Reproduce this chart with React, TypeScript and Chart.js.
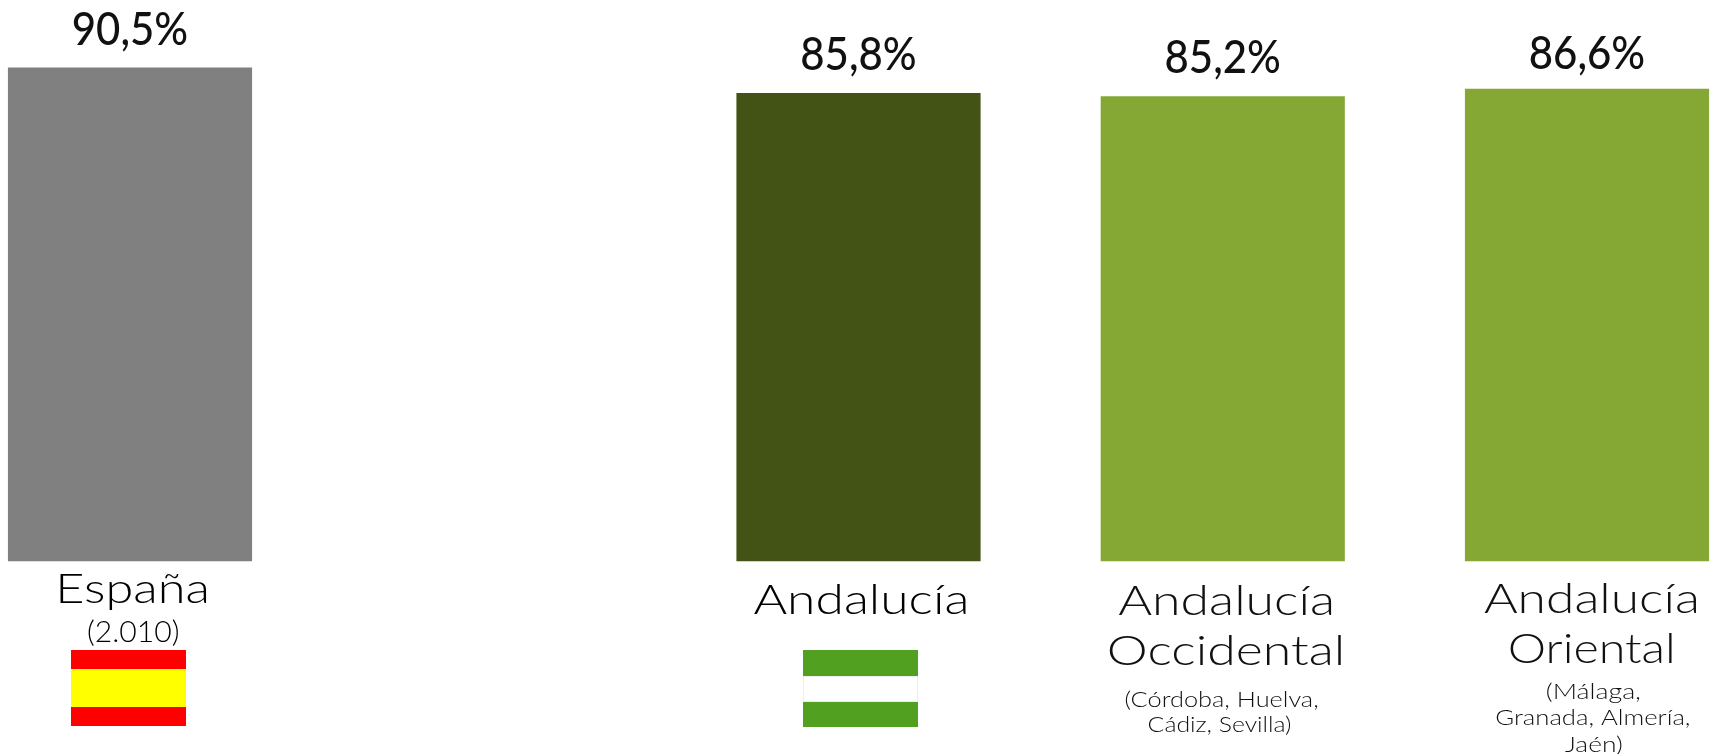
import React, { useEffect, useRef } from "react";
import { Chart, registerables } from "chart.js";

Chart.register(...registerables);

const categories = ["España", "", "Andalucía", "Andalucía Occidental", "Andalucía Oriental"];
const values = [90.5, null, 85.8, 85.2, 86.6];
const valueLabels = ["90,5%", "", "85,8%", "85,2%", "86,6%"];
const barColors = ["#808080", "#808080", "#435316", "#84a833", "#84a833"];
const titleLines = [["España"], [], ["Andalucía"], ["Andalucía", "Occidental"], ["Andalucía", "Oriental"]];
const noteLines = [["(2.010)"], [], [], ["(Córdoba, Huelva,", "Cádiz, Sevilla)"], ["(Málaga,", "Granada, Almería,", "Jaén)"]];
const spainFlag = ["#fe0000", "#ffff00", "#fe0000"];
const andaluciaFlag = ["#51a020", "#ffffff", "#51a020"];
const flagStripes = [spainFlag, [], andaluciaFlag, [], []];

// Layout of the texts, in pixels relative to the bar's centre and base
const valueGap = [23, 0, 23, 24, 20];
const titleLayout: any = {
  0: [{ dx: 3.5, dy: 42, w: 147, size: 42, color: "#000000" }],
  2: [{ dx: 1.5, dy: 53, w: 213, size: 42, color: "#000000" }],
  3: [
    { dx: 2.5, dy: 54, w: 214, size: 42, color: "#111111" },
    { dx: 2.5, dy: 104, w: 232, size: 42, color: "#111111" },
  ],
  4: [
    { dx: 3.5, dy: 52, w: 213, size: 42, color: "#111111" },
    { dx: 4, dy: 102, w: 162, size: 42, color: "#111111" },
  ],
};
const noteLayout: any = {
  0: [{ dx: 3, dy: 81, w: 90, size: 29, color: "#000000" }],
  3: [
    { dx: -1, dy: 146, w: 192, size: 22, color: "#111111" },
    { dx: -3, dy: 171, w: 142, size: 22, color: "#111111" },
  ],
  4: [
    { dx: 6.5, dy: 138, w: 93, size: 22, color: "#111111" },
    { dx: 6, dy: 164, w: 193, size: 22, color: "#111111" },
    { dx: 6.5, dy: 191, w: 57, size: 22, color: "#111111" },
  ],
};
const flagLayout: any = {
  0: { dx: -1.5, top: 89, w: 115, bands: [19, 38, 19] },
  2: { dx: 2, top: 89, w: 115, bands: [26, 26, 25] },
};

function fitText(ctx: any, text: string, cx: number, y: number, font: string, w: number, color: string) {
  ctx.save();
  ctx.font = font;
  ctx.fillStyle = color;
  ctx.textAlign = "left";
  ctx.textBaseline = "alphabetic";
  const m = ctx.measureText(text);
  const ink = m.actualBoundingBoxLeft + m.actualBoundingBoxRight;
  const sx = w / ink;
  ctx.translate(cx - w / 2 + m.actualBoundingBoxLeft * sx, y);
  ctx.scale(sx, 1);
  ctx.fillText(text, 0, 0);
  ctx.restore();
}

const annotations = {
  id: "annotations",
  afterDatasetsDraw(chart: any) {
    const { ctx, scales } = chart;
    const base = scales.y.getPixelForValue(0);
    categories.forEach((_, i) => {
      const cx = scales.x.getPixelForValue(i);
      if (values[i] != null) {
        const top = scales.y.getPixelForValue(values[i] as number);
        fitText(ctx, valueLabels[i], cx, top - valueGap[i], "500 47px Lato", 113, "#111111");
      }
      titleLines[i].forEach((t, k) => {
        const l = titleLayout[i][k];
        fitText(ctx, t, cx + l.dx, base + l.dy, `300 ${l.size}px Lato`, l.w, l.color);
      });
      noteLines[i].forEach((t, k) => {
        const l = noteLayout[i][k];
        fitText(ctx, t, cx + l.dx, base + l.dy, `300 ${l.size}px Lato`, l.w, l.color);
      });
      const f = flagLayout[i];
      if (f) {
        let y = base + f.top;
        flagStripes[i].forEach((c, k) => {
          ctx.fillStyle = c;
          ctx.fillRect(cx + f.dx - f.w / 2, y, f.w, f.bands[k]);
          if (c === "#ffffff") {
            ctx.strokeStyle = "#eeeeee";
            ctx.lineWidth = 1;
            ctx.strokeRect(cx + f.dx - f.w / 2 + 0.5, y + 0.5, f.w - 1, f.bands[k] - 1);
          }
          y += f.bands[k];
        });
      }
    });
  },
};

export default function App() {
  const ref = useRef<HTMLCanvasElement>(null);
  useEffect(() => {
    document.body.style.margin = "0";
    document.body.style.background = "#ffffff";
    const chart = new Chart(ref.current as any, {
      type: "bar",
      data: {
        labels: categories,
        datasets: [
          {
            data: values as any,
            backgroundColor: barColors,
            barThickness: 243.5,
            clip: false as any,
          },
        ],
      },
      options: {
        animation: false,
        responsive: false,
        maintainAspectRatio: false,
        layout: { padding: { left: 130, right: 128, top: 16, bottom: 193 } },
        plugins: { legend: { display: false }, tooltip: { enabled: false } },
        scales: {
          x: { display: false, offset: false },
          y: { display: false, min: 0, max: 100 },
        },
      },
      plugins: [annotations],
    });
    return () => chart.destroy();
  }, []);
  return <canvas ref={ref} width={1715} height={754} style={{ display: "block" }} />;
}
